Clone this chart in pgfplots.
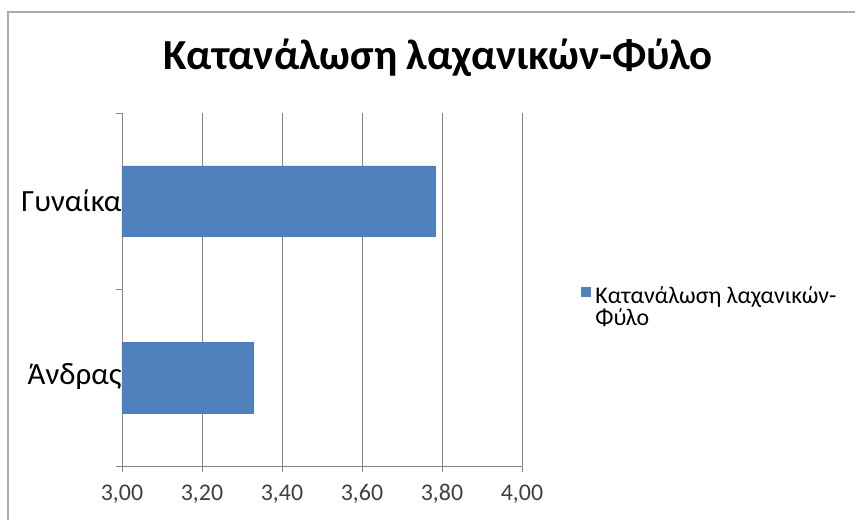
\documentclass[border=0pt]{standalone}
\usepackage{fontspec}
\setmainfont{Carlito}
\usepackage{pgfplots}
\pgfplotsset{compat=1.18}
\definecolor{barblue}{HTML}{4F81BD}
\definecolor{baredge}{HTML}{4A7EBB}
\definecolor{gridgray}{HTML}{868686}
\definecolor{ticktext}{HTML}{404040}
\begin{document}
\begin{tikzpicture}[x=1bp,y=1bp]
\useasboundingbox (-122,-54) rectangle (733,466);
\fill[white] (-122,-54) rectangle (733,466);
\draw[gray!65, line width=1.6bp] (-114,-60) -- (-114,454) -- (740,454);
\begin{axis}[
  at={(0,0)}, anchor=south west,
  scale only axis, width=400bp, height=353bp,
  xbar, bar width=0.4,
  xmin=3, xmax=4,
  ymin=-0.5, ymax=1.5,
  xtick={3,3.2,3.4,3.6,3.8,4},
  xticklabel style={font=\fontsize{24}{26}\selectfont, text=ticktext, yshift=-9bp, /pgf/number format/.cd, fixed, fixed zerofill, precision=2, use comma, assume math mode=true},
  ytick={-0.5,0.5,1.5}, yticklabels={},
  extra y ticks={0,1},
  extra y tick labels={Άνδρας,Γυναίκα},
  extra y tick style={tick style={draw=none}, yticklabel style={font=\fontsize{31}{33}\selectfont, text=black, xshift=9bp, yshift=1bp}},
  axis x line*=bottom, axis y line*=left,
  axis line style={draw=gridgray, line width=0.9bp, -},
  tick style={draw=gridgray, line width=0.9bp},
  tick align=outside, major tick length=6bp,
  xmajorgrids=true, ymajorgrids=false,
  grid style={draw=gridgray, line width=0.9bp},
  legend style={at={(1.147,0.51)}, anchor=north west, draw=none, fill=none, inner sep=0pt,
    font=\fontsize{24}{21}\selectfont, nodes={inner xsep=2bp, inner ysep=0pt}},
  legend cell align=left,
  legend image code/.code={\fill[barblue] (0bp,-1bp) rectangle (9bp,8bp);},
]
\addplot[fill=barblue, draw=baredge] coordinates {(3.328,0) (3.782,1)};
\addlegendentry{\renewcommand{\arraystretch}{0.85}\hspace{3bp}\begin{tabular}[t]{@{}l@{}}Κατανάλωση λαχανικών-\\Φύλο\end{tabular}}
\end{axis}
\node[font=\fontsize{43}{46}\selectfont\bfseries, anchor=center] at (316,408) {Κατανάλωση λαχανικών-Φύλο};
\end{tikzpicture}
\end{document}
